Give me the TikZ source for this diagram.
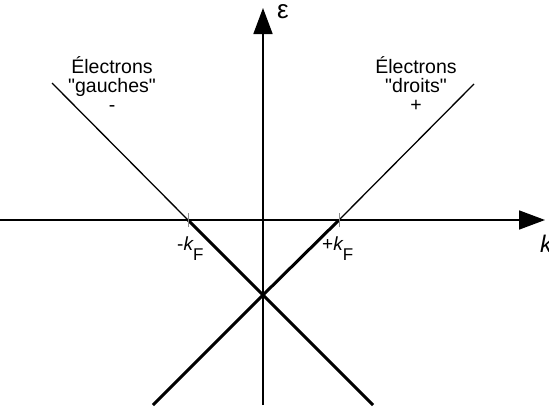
\documentclass[tikz,border=0pt]{standalone}
\usepackage{fontspec}
\setmainfont{Liberation Sans}
\usetikzlibrary{arrows.meta}
\begin{document}
\begin{tikzpicture}[x=1pt,y=-1pt,
  axis/.style={line width=1.8pt,-{Triangle[length=26pt,width=19pt]}},
  thinline/.style={line width=1.3pt},
  thickline/.style={line width=3pt},
  tickmark/.style={line width=1pt,draw=black!45},
  lbl/.style={inner sep=0pt,align=center,font=\fontsize{19.5}{19}\selectfont},
  kf/.style={inner sep=0pt,anchor=base west,font=\fontsize{19}{19}\selectfont}]
\useasboundingbox (0,0) rectangle (549,410);
% coordinates
\coordinate (xs) at (0,220);
\coordinate (xe) at (545,220);
\coordinate (ys) at (263,405);
\coordinate (ye) at (263,8);
\coordinate (O) at (263,295);
\coordinate (kl) at (188,220);
\coordinate (kr) at (339,220);
\coordinate (ul) at (52,83);
\coordinate (ur) at (474,84);
\coordinate (bl) at (153,405);
\coordinate (br) at (373,405);
% axes
\draw[axis] (xs) -- (xe);
\draw[axis] (ys) -- (ye);
% dispersion lines
\draw[thinline] (ul) -- (kl);
\draw[thickline] (kl) -- (O) -- (br);
\draw[thinline] (ur) -- (kr);
\draw[thickline] (kr) -- (O) -- (bl);
% ticks
\draw[tickmark] ([yshift=-7pt]kl) -- ([yshift=7pt]kl);
\draw[tickmark] ([yshift=-7pt]kr) -- ([yshift=7pt]kr);
% labels
\node[lbl,anchor=north] (gauche) at (112,56) {Électrons\\\textquotedbl gauches\textquotedbl\\-};
\node[lbl,anchor=north] (droit) at (416,56) {Électrons\\\textquotedbl droits\textquotedbl\\+};
\node[kf] (klab) at (177,250) {-{\itshape k}\raisebox{-10pt}{\fontsize{17}{17}\selectfont F}};
\node[kf] (krlab) at (322,250) {+{\itshape k}\raisebox{-10pt}{\fontsize{17}{17}\selectfont F}};
\node[inner sep=0pt,anchor=base,font=\fontsize{26}{26}\selectfont] (eps) at (283,18) {ε};
\node[inner sep=0pt,anchor=base west,font=\fontsize{24}{24}\selectfont\itshape] (klabel) at (540,252) {k};
\end{tikzpicture}
\end{document}
